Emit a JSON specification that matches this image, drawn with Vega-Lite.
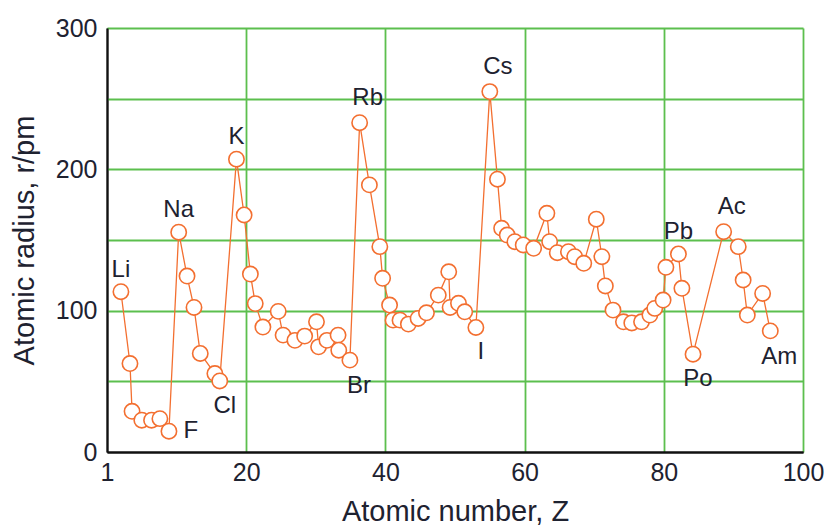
{
  "$schema": "https://vega.github.io/schema/vega-lite/v6.json",
  "autosize": {"type": "none"},
  "width": 696,
  "height": 424,
  "padding": {"left": 107, "top": 28, "right": 21, "bottom": 75},
  "background": "white",
  "config": {
    "view": {"stroke": null},
    "font": "Liberation Sans",
    "axis": {
      "domainColor": "#111111",
      "domainWidth": 2,
      "ticks": false,
      "gridWidth": 1.8,
      "labelColor": "#1e2230",
      "titleColor": "#1e2230",
      "labelFont": "Liberation Sans",
      "titleFont": "Liberation Sans",
      "titleFontWeight": "normal"
    }
  },
  "data": {
    "values": [
      {"z": 2.0, "r": 113.4, "label": "Li"},
      {"z": 3.3, "r": 62.6, "label": ""},
      {"z": 3.6, "r": 28.8, "label": ""},
      {"z": 5.0, "r": 22.5, "label": ""},
      {"z": 6.4, "r": 22.5, "label": ""},
      {"z": 7.6, "r": 23.6, "label": ""},
      {"z": 8.9, "r": 14.7, "label": "F"},
      {"z": 10.3, "r": 155.5, "label": "Na"},
      {"z": 11.5, "r": 124.5, "label": ""},
      {"z": 12.5, "r": 102.3, "label": ""},
      {"z": 13.4, "r": 69.7, "label": ""},
      {"z": 15.5, "r": 55.5, "label": ""},
      {"z": 16.2, "r": 50.3, "label": "Cl"},
      {"z": 18.6, "r": 207.2, "label": "K"},
      {"z": 19.7, "r": 167.7, "label": ""},
      {"z": 20.6, "r": 125.9, "label": ""},
      {"z": 21.3, "r": 105.0, "label": ""},
      {"z": 22.4, "r": 88.4, "label": ""},
      {"z": 24.6, "r": 99.5, "label": ""},
      {"z": 25.3, "r": 82.7, "label": ""},
      {"z": 27.0, "r": 79.0, "label": ""},
      {"z": 28.4, "r": 82.0, "label": ""},
      {"z": 30.1, "r": 92.1, "label": ""},
      {"z": 30.4, "r": 74.4, "label": ""},
      {"z": 31.6, "r": 79.0, "label": ""},
      {"z": 33.2, "r": 82.7, "label": ""},
      {"z": 33.3, "r": 72.0, "label": ""},
      {"z": 34.9, "r": 65.0, "label": "Br"},
      {"z": 36.3, "r": 233.0, "label": "Rb"},
      {"z": 37.7, "r": 189.0, "label": ""},
      {"z": 39.2, "r": 145.3, "label": ""},
      {"z": 39.6, "r": 122.9, "label": ""},
      {"z": 40.6, "r": 104.0, "label": ""},
      {"z": 41.1, "r": 93.3, "label": ""},
      {"z": 42.1, "r": 93.3, "label": ""},
      {"z": 43.3, "r": 90.5, "label": ""},
      {"z": 44.7, "r": 94.5, "label": ""},
      {"z": 45.9, "r": 98.5, "label": ""},
      {"z": 47.6, "r": 111.0, "label": ""},
      {"z": 49.1, "r": 127.5, "label": ""},
      {"z": 49.3, "r": 102.3, "label": ""},
      {"z": 50.5, "r": 105.2, "label": ""},
      {"z": 51.4, "r": 99.2, "label": ""},
      {"z": 53.0, "r": 88.1, "label": "I"},
      {"z": 55.0, "r": 255.0, "label": "Cs"},
      {"z": 56.1, "r": 193.0, "label": ""},
      {"z": 56.7, "r": 158.3, "label": ""},
      {"z": 57.5, "r": 153.5, "label": ""},
      {"z": 58.6, "r": 148.8, "label": ""},
      {"z": 59.8, "r": 146.5, "label": ""},
      {"z": 61.3, "r": 144.1, "label": ""},
      {"z": 63.2, "r": 168.9, "label": ""},
      {"z": 63.6, "r": 148.8, "label": ""},
      {"z": 64.7, "r": 141.0, "label": ""},
      {"z": 66.3, "r": 141.7, "label": ""},
      {"z": 67.2, "r": 138.2, "label": ""},
      {"z": 68.5, "r": 133.5, "label": ""},
      {"z": 70.3, "r": 164.7, "label": ""},
      {"z": 71.1, "r": 138.2, "label": ""},
      {"z": 71.6, "r": 117.5, "label": ""},
      {"z": 72.7, "r": 100.4, "label": ""},
      {"z": 74.2, "r": 92.1, "label": ""},
      {"z": 75.4, "r": 91.3, "label": ""},
      {"z": 76.8, "r": 92.1, "label": ""},
      {"z": 78.0, "r": 96.9, "label": ""},
      {"z": 78.7, "r": 101.6, "label": ""},
      {"z": 79.9, "r": 107.5, "label": ""},
      {"z": 80.3, "r": 130.7, "label": ""},
      {"z": 82.1, "r": 140.1, "label": "Pb"},
      {"z": 82.6, "r": 115.8, "label": ""},
      {"z": 84.2, "r": 69.2, "label": "Po"},
      {"z": 88.6, "r": 155.9, "label": "Ac"},
      {"z": 90.7, "r": 145.3, "label": ""},
      {"z": 91.4, "r": 121.7, "label": ""},
      {"z": 92.0, "r": 96.9, "label": ""},
      {"z": 94.2, "r": 112.2, "label": ""},
      {"z": 95.3, "r": 85.7, "label": "Am"}
    ]
  },
  "encoding": {
    "x": {
      "field": "z",
      "type": "quantitative",
      "scale": {"domain": [0, 100], "nice": false, "zero": false},
      "axis": {
        "values": [0, 20, 40, 60, 80, 100],
        "labelExpr": "datum.value == 0 ? '1' : datum.label",
        "labelFontSize": 25,
        "labelPadding": 8,
        "title": "Atomic number, Z",
        "titleFontSize": 29,
        "titlePadding": 12,
        "gridColor": {"condition": {"test": "datum.value == 0", "value": "#111111"}, "value": "#5cbf4e"},
        "labelFlush": false
      }
    },
    "y": {
      "field": "r",
      "type": "quantitative",
      "scale": {"domain": [0, 300], "nice": false},
      "axis": {
        "values": [0, 50, 100, 150, 200, 250, 300],
        "labelExpr": "datum.value % 100 == 0 ? datum.label : ''",
        "labelFontSize": 25,
        "labelPadding": 10,
        "title": "Atomic radius, r/pm",
        "titleFontSize": 29,
        "titlePadding": 16,
        "gridColor": {"condition": {"test": "datum.value == 0", "value": "#111111"}, "value": "#5cbf4e"},
        "labelFlush": false
      }
    }
  },
  "layer": [
    {"mark": {"type": "line", "color": "#f36f30", "strokeWidth": 1.3}},
    {"mark": {"type": "point", "shape": "circle", "filled": false, "fill": "white", "fillOpacity": 1, "stroke": "#f36f30", "strokeWidth": 1.6, "size": 235, "opacity": 1}},
    {
      "transform": [{"filter": "indexof(['Li','Na','K','Pb'], datum.label) >= 0"}],
      "mark": {"type": "text", "fontSize": 24, "color": "#1e2230", "dy": -22, "dx": 0, "align": "center", "baseline": "middle"},
      "encoding": {"text": {"field": "label"}}
    },
    {
      "transform": [{"filter": "indexof(['Rb','Cs','Ac'], datum.label) >= 0"}],
      "mark": {"type": "text", "fontSize": 24, "color": "#1e2230", "dy": -25, "dx": 8, "align": "center", "baseline": "middle"},
      "encoding": {"text": {"field": "label"}}
    },
    {
      "transform": [{"filter": "datum.label == 'F'"}],
      "mark": {"type": "text", "fontSize": 24, "color": "#1e2230", "dy": 0, "dx": 22, "align": "center", "baseline": "middle"},
      "encoding": {"text": {"field": "label"}}
    },
    {
      "transform": [{"filter": "indexof(['Cl','I','Po'], datum.label) >= 0"}],
      "mark": {"type": "text", "fontSize": 24, "color": "#1e2230", "dy": 25, "dx": 5, "align": "center", "baseline": "middle"},
      "encoding": {"text": {"field": "label"}}
    },
    {
      "transform": [{"filter": "indexof(['Br','Am'], datum.label) >= 0"}],
      "mark": {"type": "text", "fontSize": 24, "color": "#1e2230", "dy": 26, "dx": 9, "align": "center", "baseline": "middle"},
      "encoding": {"text": {"field": "label"}}
    }
  ]
}
